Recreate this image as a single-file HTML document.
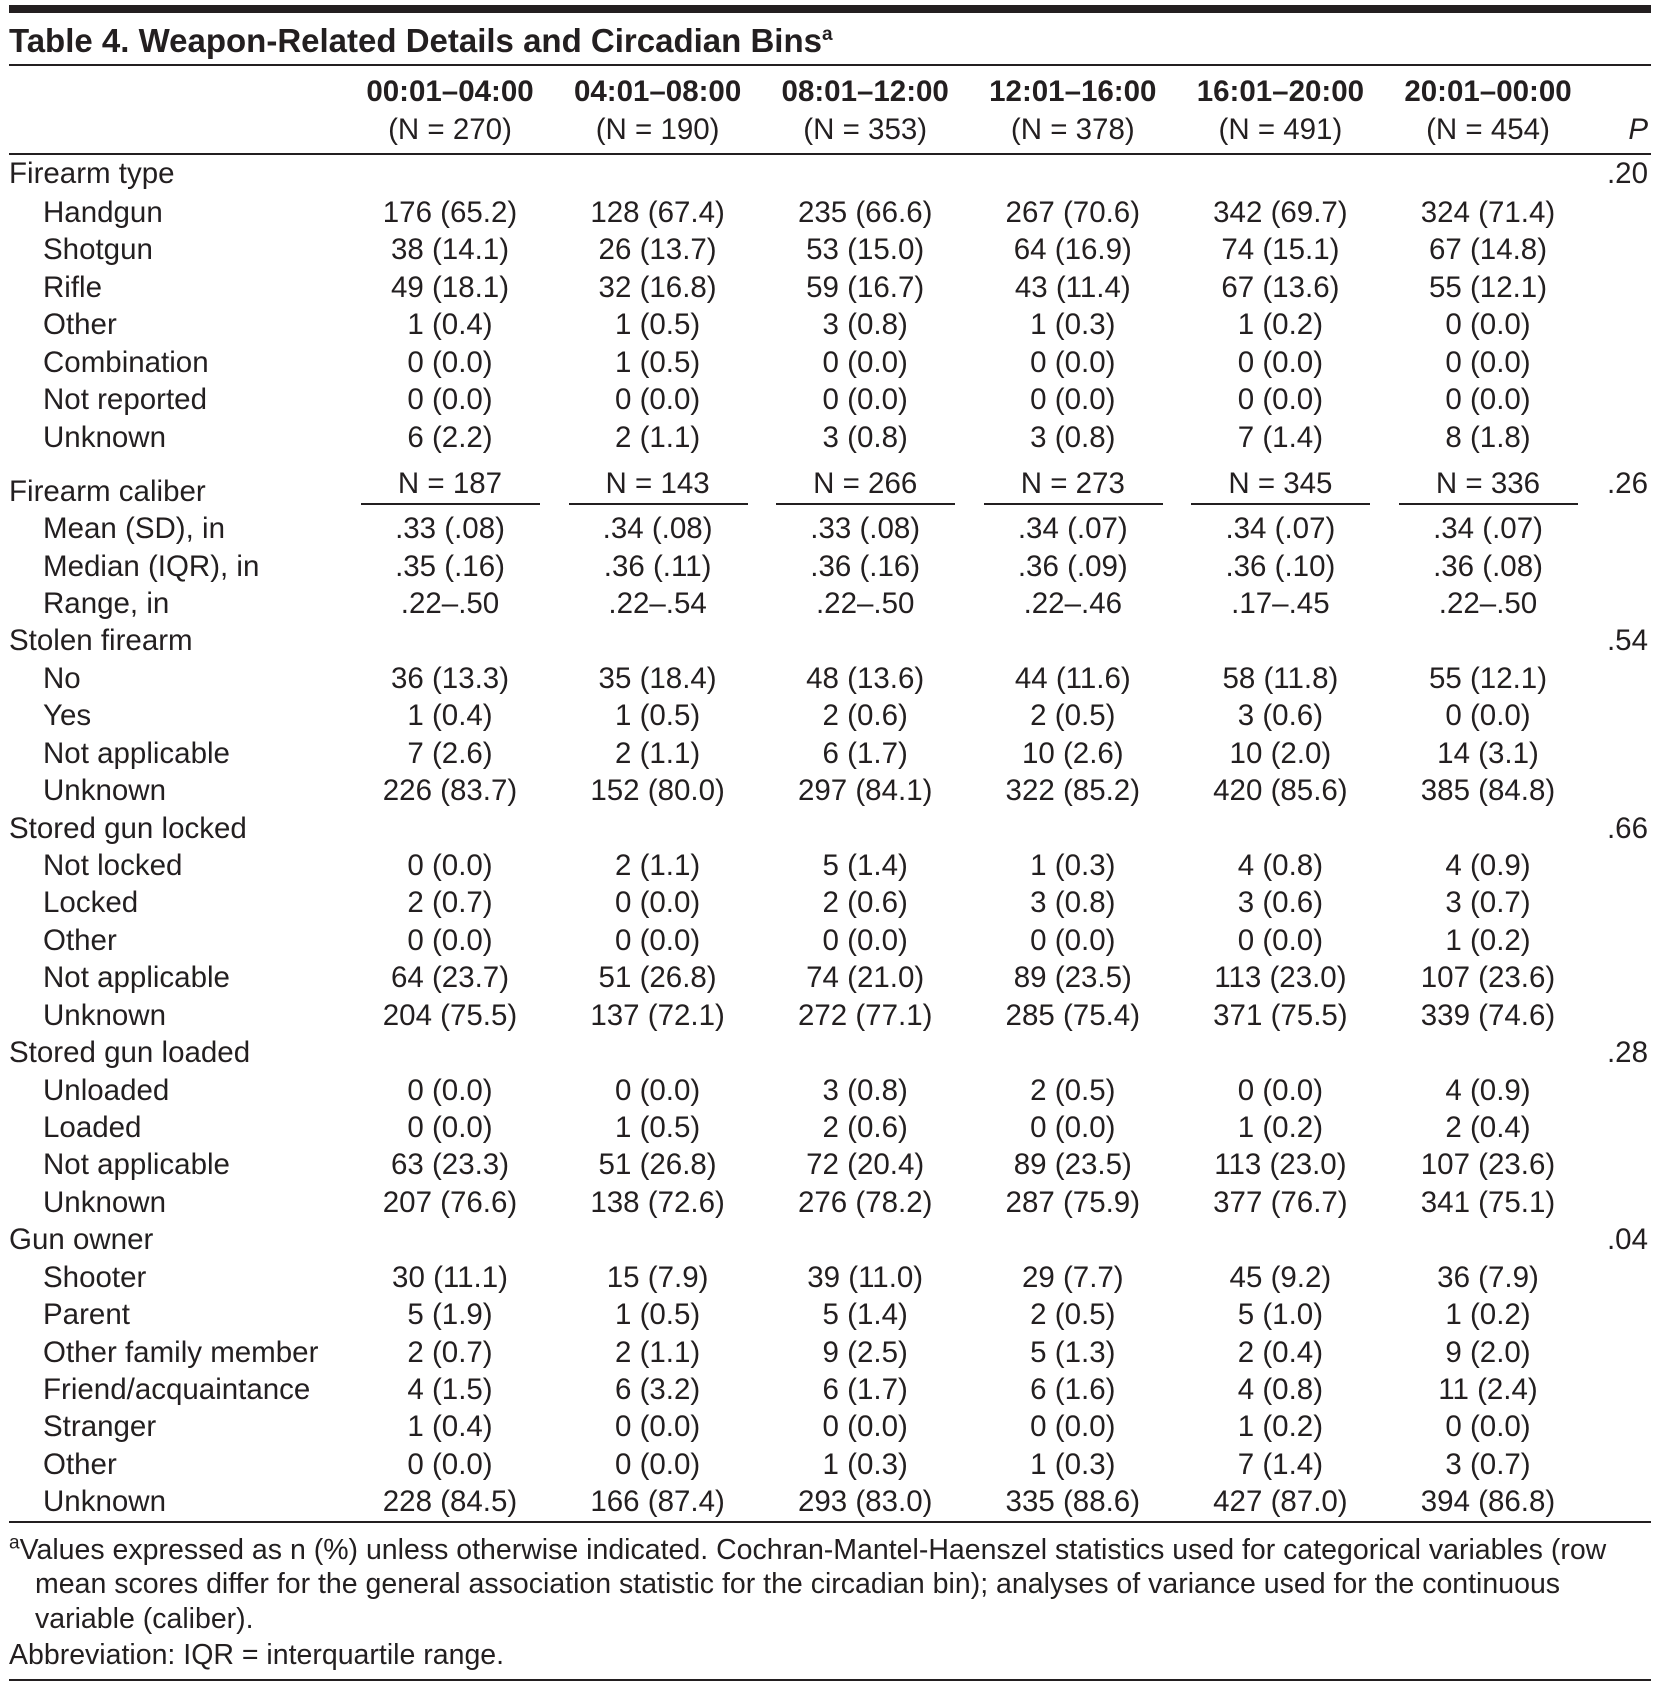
<!DOCTYPE html>
<html><head><meta charset="utf-8">
<style>
html,body{margin:0;padding:0;background:#fff;}
body{width:1662px;height:1690px;position:relative;overflow:hidden;font-family:"Liberation Sans",sans-serif;color:#231f20;}
.t{position:absolute;white-space:nowrap;font-size:29.5px;line-height:34px;height:34px;}
.f{font-size:28.5px;}
.c{transform:translateX(-50%);}
.r{transform:translateX(-100%);}
.b{font-weight:bold;}
.rule{position:absolute;background:#231f20;}
sup{font-size:19px;line-height:0;}
</style></head>
<body>
<div class="rule" style="left:9px;top:5px;width:1642px;height:8px"></div>
<div class="t b" style="left:9px;top:21px;font-size:33px;line-height:40px;height:40px">Table 4. Weapon-Related Details and Circadian Bins<sup>a</sup></div>
<div class="rule" style="left:9px;top:64px;width:1642px;height:2px"></div>
<div class="rule" style="left:9px;top:153px;width:1642px;height:2px"></div>
<div class="rule" style="left:9px;top:1521px;width:1642px;height:2px"></div>
<div class="rule" style="left:9px;top:1679px;width:1642px;height:2px"></div>
<div id="tbl"></div>
<div class="t f" style="left:9px;top:1533px"><sup>a</sup>Values expressed as n (%) unless otherwise indicated. Cochran-Mantel-Haenszel statistics used for categorical variables (row</div>
<div class="t f" style="left:35px;top:1567px">mean scores differ for the general association statistic for the circadian bin); analyses of variance used for the continuous</div>
<div class="t f" style="left:35px;top:1602px">variable (caliber).</div>
<div class="t f" style="left:9px;top:1638px">Abbreviation: IQR = interquartile range.</div>
<script>
const bins = ["00:01–04:00","04:01–08:00","08:01–12:00","12:01–16:00","16:01–20:00","20:01–00:00"];
const binN = ["(N = 270)","(N = 190)","(N = 353)","(N = 378)","(N = 491)","(N = 454)"];
const caliberN = ["N = 187","N = 143","N = 266","N = 273","N = 345","N = 336"];
const rows = [
["Firearm type",0,null,".20"],
["Handgun",1,["176 (65.2)","128 (67.4)","235 (66.6)","267 (70.6)","342 (69.7)","324 (71.4)"],""],
["Shotgun",1,["38 (14.1)","26 (13.7)","53 (15.0)","64 (16.9)","74 (15.1)","67 (14.8)"],""],
["Rifle",1,["49 (18.1)","32 (16.8)","59 (16.7)","43 (11.4)","67 (13.6)","55 (12.1)"],""],
["Other",1,["1 (0.4)","1 (0.5)","3 (0.8)","1 (0.3)","1 (0.2)","0 (0.0)"],""],
["Combination",1,["0 (0.0)","1 (0.5)","0 (0.0)","0 (0.0)","0 (0.0)","0 (0.0)"],""],
["Not reported",1,["0 (0.0)","0 (0.0)","0 (0.0)","0 (0.0)","0 (0.0)","0 (0.0)"],""],
["Unknown",1,["6 (2.2)","2 (1.1)","3 (0.8)","3 (0.8)","7 (1.4)","8 (1.8)"],""],
["Firearm caliber",0,"N",".26"],
["Mean (SD), in",1,[".33 (.08)",".34 (.08)",".33 (.08)",".34 (.07)",".34 (.07)",".34 (.07)"],""],
["Median (IQR), in",1,[".35 (.16)",".36 (.11)",".36 (.16)",".36 (.09)",".36 (.10)",".36 (.08)"],""],
["Range, in",1,[".22–.50",".22–.54",".22–.50",".22–.46",".17–.45",".22–.50"],""],
["Stolen firearm",0,null,".54"],
["No",1,["36 (13.3)","35 (18.4)","48 (13.6)","44 (11.6)","58 (11.8)","55 (12.1)"],""],
["Yes",1,["1 (0.4)","1 (0.5)","2 (0.6)","2 (0.5)","3 (0.6)","0 (0.0)"],""],
["Not applicable",1,["7 (2.6)","2 (1.1)","6 (1.7)","10 (2.6)","10 (2.0)","14 (3.1)"],""],
["Unknown",1,["226 (83.7)","152 (80.0)","297 (84.1)","322 (85.2)","420 (85.6)","385 (84.8)"],""],
["Stored gun locked",0,null,".66"],
["Not locked",1,["0 (0.0)","2 (1.1)","5 (1.4)","1 (0.3)","4 (0.8)","4 (0.9)"],""],
["Locked",1,["2 (0.7)","0 (0.0)","2 (0.6)","3 (0.8)","3 (0.6)","3 (0.7)"],""],
["Other",1,["0 (0.0)","0 (0.0)","0 (0.0)","0 (0.0)","0 (0.0)","1 (0.2)"],""],
["Not applicable",1,["64 (23.7)","51 (26.8)","74 (21.0)","89 (23.5)","113 (23.0)","107 (23.6)"],""],
["Unknown",1,["204 (75.5)","137 (72.1)","272 (77.1)","285 (75.4)","371 (75.5)","339 (74.6)"],""],
["Stored gun loaded",0,null,".28"],
["Unloaded",1,["0 (0.0)","0 (0.0)","3 (0.8)","2 (0.5)","0 (0.0)","4 (0.9)"],""],
["Loaded",1,["0 (0.0)","1 (0.5)","2 (0.6)","0 (0.0)","1 (0.2)","2 (0.4)"],""],
["Not applicable",1,["63 (23.3)","51 (26.8)","72 (20.4)","89 (23.5)","113 (23.0)","107 (23.6)"],""],
["Unknown",1,["207 (76.6)","138 (72.6)","276 (78.2)","287 (75.9)","377 (76.7)","341 (75.1)"],""],
["Gun owner",0,null,".04"],
["Shooter",1,["30 (11.1)","15 (7.9)","39 (11.0)","29 (7.7)","45 (9.2)","36 (7.9)"],""],
["Parent",1,["5 (1.9)","1 (0.5)","5 (1.4)","2 (0.5)","5 (1.0)","1 (0.2)"],""],
["Other family member",1,["2 (0.7)","2 (1.1)","9 (2.5)","5 (1.3)","2 (0.4)","9 (2.0)"],""],
["Friend/acquaintance",1,["4 (1.5)","6 (3.2)","6 (1.7)","6 (1.6)","4 (0.8)","11 (2.4)"],""],
["Stranger",1,["1 (0.4)","0 (0.0)","0 (0.0)","0 (0.0)","1 (0.2)","0 (0.0)"],""],
["Other",1,["0 (0.0)","0 (0.0)","1 (0.3)","1 (0.3)","7 (1.4)","3 (0.7)"],""],
["Unknown",1,["228 (84.5)","166 (87.4)","293 (83.0)","335 (88.6)","427 (87.0)","394 (86.8)"],""]
];
const colX = i => 450 + i*207.6;
const host = document.getElementById('tbl');
function txt(s, x, yc, cls){
  const d = document.createElement('div');
  d.className = 't ' + cls;
  d.textContent = s;
  d.style.left = x + 'px';
  d.style.top = (yc - 15) + 'px';
  host.appendChild(d);
  return d;
}
bins.forEach((b,i)=>{
  const h = txt(b, colX(i), 90, 'c b');
  
  
  const n = txt(binN[i], colX(i), 128, 'c');
  
  
});
const ph = txt('P', 1648, 128, 'r');
ph.style.fontStyle = 'italic';


let y = 172;
rows.forEach((r, k)=>{
  if (r[2] === 'N') y = 489.5;
  else if (k === 1) y = 211;
  else if (k === 9) y = 527.1;
  else if (k > 1) y += 37.43;
  const lab = txt(r[0], r[1] ? 43 : 9, y, '');
  
  
  if (r[3]) {
    const p = txt(r[3], 1648, r[2] === 'N' ? y - 8 : y, 'r');
    
    
  }
  if (r[2] === 'N') {
    caliberN.forEach((s,i)=>{
      const n = txt(s, colX(i), y - 8, 'c');
      
      
      const ln = document.createElement('div');
      ln.className = 'rule';
      ln.style.left = (colX(i) - 89) + 'px';
      ln.style.top = (y + 13) + 'px';
      ln.style.width = '179px';
      ln.style.height = '2px';
      
      
      host.appendChild(ln);
    });
  } else if (r[2]) {
    r[2].forEach((v,i)=>{
      const c = txt(v, colX(i), y, 'c');
      
      
    });
  }
});
</script>
</body></html>
